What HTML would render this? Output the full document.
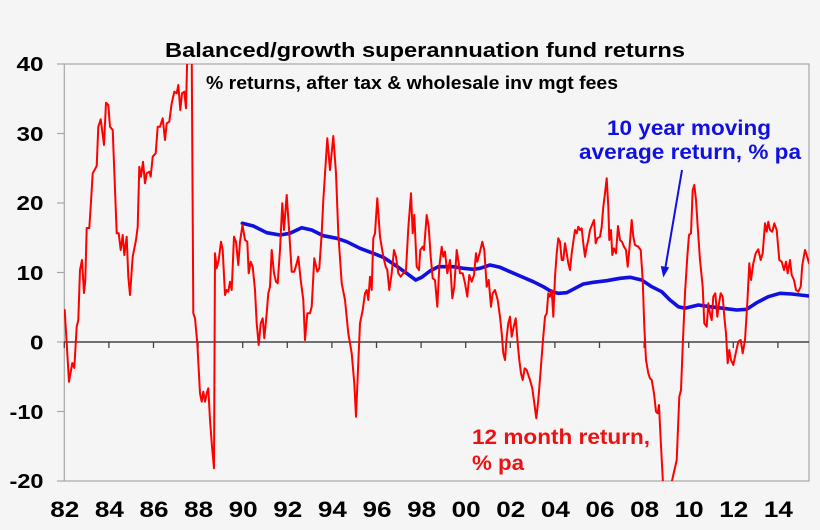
<!DOCTYPE html>
<html>
<head>
<meta charset="utf-8">
<style>
  html, body { margin:0; padding:0; background:#f5f5f5; }
  body { width:820px; height:530px; overflow:hidden; }
  svg { display:block; }
  text { font-family:"Liberation Sans", Arial, sans-serif; font-weight:bold; }
</style>
</head>
<body>
<svg width="820" height="530" viewBox="0 0 820 530" xmlns="http://www.w3.org/2000/svg">
  <defs>
    <clipPath id="plot"><rect x="64" y="64" width="745" height="417"/></clipPath>
  </defs>
  <rect x="0" y="0" width="820" height="530" fill="#f5f5f5"/>
  <!-- plot frame -->
  <rect x="64.3" y="64" width="744.7" height="417" fill="#f5f5f5" stroke="#a6a6a6" stroke-width="1.2"/>
  <!-- y ticks -->
  <g stroke="#a6a6a6" stroke-width="1.2">
    <line x1="57" y1="64" x2="64" y2="64"/>
    <line x1="57" y1="133.5" x2="64" y2="133.5"/>
    <line x1="57" y1="203" x2="64" y2="203"/>
    <line x1="57" y1="272.5" x2="64" y2="272.5"/>
    <line x1="57" y1="342" x2="64" y2="342"/>
    <line x1="57" y1="411.5" x2="64" y2="411.5"/>
    <line x1="57" y1="481" x2="64" y2="481"/>
  </g>
  <!-- zero line -->
  <line x1="64" y1="342" x2="809" y2="342" stroke="#222" stroke-width="1.3"/>
  <!-- x ticks -->
  <g stroke="#444" stroke-width="1.3">
    <line x1="64.3" y1="342" x2="64.3" y2="348"/>
    <line x1="108.9" y1="342" x2="108.9" y2="348"/>
    <line x1="153.5" y1="342" x2="153.5" y2="348"/>
    <line x1="198.1" y1="342" x2="198.1" y2="348"/>
    <line x1="242.7" y1="342" x2="242.7" y2="348"/>
    <line x1="287.3" y1="342" x2="287.3" y2="348"/>
    <line x1="331.9" y1="342" x2="331.9" y2="348"/>
    <line x1="376.5" y1="342" x2="376.5" y2="348"/>
    <line x1="421.1" y1="342" x2="421.1" y2="348"/>
    <line x1="465.7" y1="342" x2="465.7" y2="348"/>
    <line x1="510.3" y1="342" x2="510.3" y2="348"/>
    <line x1="554.9" y1="342" x2="554.9" y2="348"/>
    <line x1="599.5" y1="342" x2="599.5" y2="348"/>
    <line x1="644.1" y1="342" x2="644.1" y2="348"/>
    <line x1="688.7" y1="342" x2="688.7" y2="348"/>
    <line x1="733.3" y1="342" x2="733.3" y2="348"/>
    <line x1="777.9" y1="342" x2="777.9" y2="348"/>
  </g>

  <g clip-path="url(#plot)" fill="none" stroke-linejoin="round" stroke-linecap="round">
    <!-- 10 year moving average -->
    <polyline stroke="#1010e0" stroke-width="3.6" points="242.3,223.3 253.3,226 266.7,232.7 280,235 290,233.3 301.7,227.7 311.7,230 323.3,235.7 336.7,238.3 346.7,241.7 360,248.3 373.3,253.3 383.3,257.3 395,265 406.7,273.3 415.7,280 421.7,277.3 430,271 438.3,266.7 453.3,266.7 463.3,268.3 473.3,269.3 480,268.3 490,265 500,267.3 510,271.7 520,276 533.3,281.7 543.3,286.7 551.7,291.7 558.3,293.3 566.7,292.7 575,288.3 583.3,284 593.3,282.3 606.7,280.7 620,278.3 630,277.3 641.7,280 651.7,286.7 661.7,291.7 670,300 678.3,306.7 685,308.3 698.3,305 710,306.7 723.3,308.3 736.7,310 746.7,309.3 756.7,302.7 768.3,296.7 780,293.3 791.7,294 809,296"/>
    <!-- 12 month return -->
    <polyline stroke="#ff0000" stroke-width="2" points="64.7,310 69,381.7 72.3,363 74.3,368 76.7,326.7 78.3,320 80,270 82,260 84,293 85.3,280 86.7,228 89.3,228 90.7,206.7 92.7,173.3 96.7,166 98.3,126.7 100.7,119.3 104,145 106,102.7 108.3,105 110,126.7 112.7,130 116.7,233.3 118.7,233.3 120.7,250 122.7,235 124.3,255 126.7,236.7 128.3,276.7 130,295 132.7,256.7 136,240 137.7,226.7 139.3,166.7 141,176.7 143,161.7 145,183.3 146.7,173.3 149.3,171.7 150.7,176.7 152.7,156.7 155.7,153.3 157.7,126.7 160,126.7 162.7,118.3 165,140 166.7,123.3 169.3,121.7 171.7,103.3 174.3,91.7 176.7,93.3 178.3,85 180.3,110 182,93.3 184.3,91.7 186,108.3 187,66.7 188,50 191.7,50 193.3,313.3 195,318.3 197.3,343.3 200,393.3 201.7,401.7 203.3,391.7 205,401.7 206.7,393.3 208.3,388.3 210,420 212,446.7 214,468.3 215,253.3 216.7,268.3 218.7,260 221,241.7 222.7,250 225,295 226.7,290 228.3,291.7 230,281.7 231.7,290 234,236.7 236,241.7 238.3,265 240,241.7 242.5,225 245,240 247.3,241.7 248.7,273.3 250.7,261.7 252.7,266.7 255,290 256.7,323.3 258.7,345 260.7,323.3 262.7,318.3 264.3,338.3 266.7,313.3 268.3,293.3 270,286.7 271.7,250 274,273.3 276,281.7 277.7,283.3 280,250 282.3,203.3 284,230 286.7,195 289.3,233.3 291.7,271.7 294.3,271.7 296.7,263.3 298.3,256.7 300.7,280 303.3,300 305,340 307.3,313.3 310,313.3 311.7,306.7 314.3,258.3 317.3,271.7 319.3,268.3 321.7,233.3 323.3,200 327.3,138.3 330,170 333.3,136 336,173.3 338.3,233.3 341.7,283.3 345,300 348.3,333.3 351.7,353.3 354.3,383.3 356,416.7 357.7,376.7 360,323.3 362.7,310 365,293.3 366.7,290 368.3,300 370,276.7 371.7,290 373.3,238.3 375,233.3 377.3,198.3 380,236.7 383.3,256.7 385.7,266.7 387.3,270 389.3,290 391.7,273.3 394,250 396,256.7 398.3,273.3 400.7,276.7 403.3,273.3 406,270 408.3,228.3 411,193.3 412.7,233.3 414.3,215 416.7,266.7 419,270 420.3,250 422.7,246.7 424,250 426.7,215 428.7,226.7 430.7,256.7 432.7,278.3 435,280 437.3,306.7 439.3,266.7 441.7,246.7 443.3,256.7 445,251.7 447.3,273.3 450,260 452.3,298.3 454.3,286.7 456.7,250 458.7,263.3 460,273.3 462.7,273.3 465,283.3 467.3,296.7 469.3,275 471.7,281.7 474,275 476,253.3 477.3,261.7 480,251.7 482.3,241.7 484.3,250 486.7,286.7 488.7,280 491,306.7 492.7,293.3 495,290 497.7,300 500,316.7 501.7,333.3 503.3,353.3 505,360 506.7,336.7 508.3,323.3 510,316.7 511.7,336.7 513.7,326.7 515.7,318.3 517.7,343.3 519.3,360 521,373.3 522.7,380 524.7,368.3 526.7,370 528.3,375 530,380 532.3,388.3 534.3,403.3 536.3,418.3 538.3,400 540.7,370 542.7,343.3 545,316.7 546.7,313.3 548.3,293.3 550,296.7 551.7,290 553.3,316.7 555,276.7 556.7,253.3 558.3,238.3 560,241.7 561.7,260 563.3,260 565,243.3 566.7,253.3 568.3,263.3 570,270 571.7,253.3 573.3,241.7 575,230 576.7,233.3 578.3,226.7 580,230 581.7,228.3 583.3,243.3 585,256.7 586.7,246.7 588.3,240 590,230 592.7,223.3 594,220 595.7,243.3 597.3,238.3 600,236.7 601.7,226.7 603.3,206.7 605,193.3 606.7,178.3 608.3,206.7 609.3,240 611,230 612.3,255 614,248.3 616,253.3 618,226 620,240 622,241.7 624,246.7 626,250 627.7,266.7 629.3,250 631.7,220 633.3,236.7 635,245 638.3,246.7 640.7,250 642.7,280 644.3,326.7 646,360 648.3,373.3 650,378.3 651.7,380 654,393.3 656,411.7 657.7,413.3 659,405 660.7,440 662.3,470 663.3,490 670,490 673.3,475 676.7,460 679.3,396.7 681,390 682.7,346.7 685,293.3 687.3,256.7 689,235 691,233.3 692.7,190 694.3,185 696,200 697.7,226.7 700,260 702.7,286.7 704.3,323.3 706.7,326.7 708.3,303.3 710,313.3 711.7,320 713.3,296.7 715.3,293.3 717.3,316.7 719,303.3 720.7,293.3 722.7,296.7 724.3,316.7 726,333.3 727.7,363.3 729.3,350 731,360 733.3,365 735.7,353.3 738.3,341.7 740.7,340 742.7,353.3 745,340 747.3,303.3 749.3,263.3 751,280 753.3,263.3 755.7,253.3 758.3,249.3 760.7,260 762.7,253.3 765,223.3 766.7,231.7 768.3,221.7 770,230 772.3,231.7 774.3,223.3 776.7,230 779.3,260 781.7,261.7 784,270 786,261.7 787.7,273.3 790,260 791.7,275 794,280 796,290 798.3,291.7 800.7,286.7 802.3,265 805,250 806.7,255 809,263.3"/>
  </g>

  <!-- arrow -->
  <line x1="682" y1="170" x2="665.5" y2="267" stroke="#1010e0" stroke-width="2"/>
  <polygon points="663.3,277.5 660.8,266 669.2,267.4" fill="#1010e0"/>

  <!-- y labels -->
  <g font-size="20" fill="#000">
    <text x="16.5" y="71" textLength="27" lengthAdjust="spacingAndGlyphs">40</text>
    <text x="16.5" y="141" textLength="27" lengthAdjust="spacingAndGlyphs">30</text>
    <text x="16.5" y="210" textLength="27" lengthAdjust="spacingAndGlyphs">20</text>
    <text x="16.5" y="280" textLength="27" lengthAdjust="spacingAndGlyphs">10</text>
    <text x="30" y="349.5" textLength="13.5" lengthAdjust="spacingAndGlyphs">0</text>
    <text x="9.5" y="419" textLength="34" lengthAdjust="spacingAndGlyphs">-10</text>
    <text x="9.5" y="488" textLength="34" lengthAdjust="spacingAndGlyphs">-20</text>
  </g>

  <!-- x labels -->
  <g font-size="22" fill="#000">
    <text x="50.3" y="517" textLength="29" lengthAdjust="spacingAndGlyphs">82</text>
    <text x="94.9" y="517" textLength="29" lengthAdjust="spacingAndGlyphs">84</text>
    <text x="139.5" y="517" textLength="29" lengthAdjust="spacingAndGlyphs">86</text>
    <text x="184.1" y="517" textLength="29" lengthAdjust="spacingAndGlyphs">88</text>
    <text x="228.7" y="517" textLength="29" lengthAdjust="spacingAndGlyphs">90</text>
    <text x="273.3" y="517" textLength="29" lengthAdjust="spacingAndGlyphs">92</text>
    <text x="317.9" y="517" textLength="29" lengthAdjust="spacingAndGlyphs">94</text>
    <text x="362.5" y="517" textLength="29" lengthAdjust="spacingAndGlyphs">96</text>
    <text x="407.1" y="517" textLength="29" lengthAdjust="spacingAndGlyphs">98</text>
    <text x="451.7" y="517" textLength="29" lengthAdjust="spacingAndGlyphs">00</text>
    <text x="496.3" y="517" textLength="29" lengthAdjust="spacingAndGlyphs">02</text>
    <text x="540.9" y="517" textLength="29" lengthAdjust="spacingAndGlyphs">04</text>
    <text x="585.5" y="517" textLength="29" lengthAdjust="spacingAndGlyphs">06</text>
    <text x="630.1" y="517" textLength="29" lengthAdjust="spacingAndGlyphs">08</text>
    <text x="674.7" y="517" textLength="29" lengthAdjust="spacingAndGlyphs">10</text>
    <text x="719.3" y="517" textLength="29" lengthAdjust="spacingAndGlyphs">12</text>
    <text x="763.9" y="517" textLength="29" lengthAdjust="spacingAndGlyphs">14</text>
  </g>

  <!-- titles -->
  <text x="165" y="57" font-size="20" fill="#000" textLength="520" lengthAdjust="spacingAndGlyphs">Balanced/growth superannuation fund returns</text>
  <text x="206" y="89" font-size="18" fill="#000" textLength="412" lengthAdjust="spacingAndGlyphs">% returns, after tax &amp; wholesale inv mgt fees</text>

  <!-- annotations -->
  <g font-size="21" fill="#1010e0">
    <text x="607" y="135" textLength="164" lengthAdjust="spacingAndGlyphs">10 year moving</text>
    <text x="579" y="159" textLength="222" lengthAdjust="spacingAndGlyphs">average return, % pa</text>
  </g>
  <g font-size="21" fill="#ee1111">
    <text x="472" y="444" textLength="178" lengthAdjust="spacingAndGlyphs">12 month return,</text>
    <text x="472" y="470" textLength="52" lengthAdjust="spacingAndGlyphs">% pa</text>
  </g>
</svg>
</body>
</html>
